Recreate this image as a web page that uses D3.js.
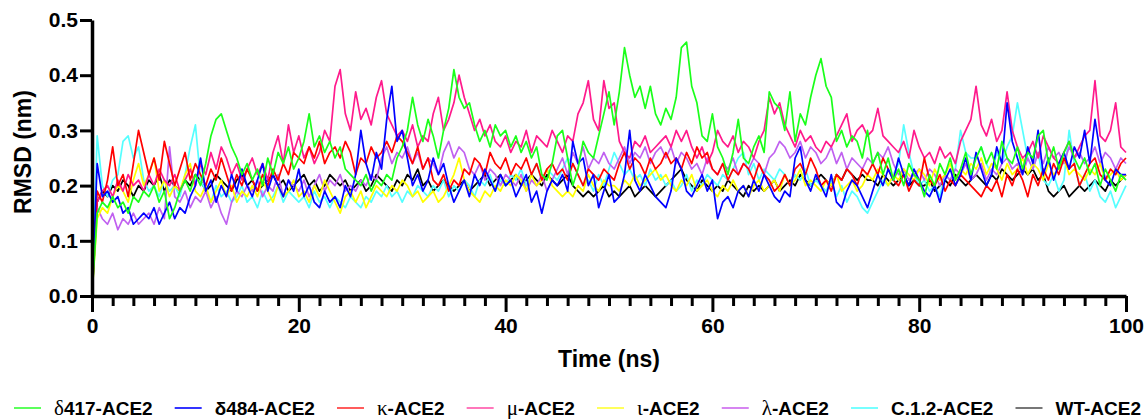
<!DOCTYPE html>
<html><head><meta charset="utf-8">
<script src="https://cdn.jsdelivr.net/npm/d3@7"></script>
<style>body{margin:0;background:#fff;}svg{display:block;}</style>
</head><body><svg id="chart" width="1148" height="419"></svg>
<script>
// sampling interval of the trajectories (ns)
const step = 0.5;

const d417 = [0,
.15,.17,.16,.18,.16,.17,.15,.18,.17,.19,
.18,.20,.17,.19,.14,.16,.19,.21,.19,.22,
.20,.24,.29,.32,.33,.30,.27,.25,.22,.24,
.21,.23,.20,.25,.22,.26,.24,.27,.23,.25,
.28,.33,.27,.29,.26,.28,.25,.27,.23,.22,
.21,.20,.22,.19,.21,.20,.22,.21,.25,.27,
.30,.36,.31,.28,.32,.29,.25,.30,.34,.41,
.36,.34,.35,.31,.28,.30,.27,.31,.29,.30,
.27,.29,.26,.28,.25,.27,.22,.21,.24,.29,
.30,.25,.20,.23,.28,.26,.25,.29,.33,.37,
.31,.37,.45,.40,.36,.38,.34,.38,.33,.31,
.34,.32,.36,.45,.46,.38,.35,.29,.28,.33,
.27,.25,.22,.26,.32,.25,.24,.27,.29,.26,
.37,.35,.34,.30,.37,.28,.33,.31,.36,.40,
.43,.38,.36,.28,.30,.27,.29,.28,.25,.30,
.24,.26,.22,.25,.21,.23,.20,.24,.22,.21,
.18,.22,.20,.24,.22,.25,.21,.23,.26,.22,
.25,.27,.24,.26,.23,.28,.25,.24,.27,.23,
.26,.25,.29,.30,.24,.27,.23,.26,.28,.25,
.23,.25,.22,.24,.20,.23,.21,.19,.22,.21];

const d484 = [0,
.24,.18,.19,.17,.18,.15,.16,.13,.14,.15,
.14,.16,.13,.15,.17,.14,.16,.15,.18,.20,
.25,.19,.21,.17,.20,.18,.22,.19,.23,.20,
.18,.21,.24,.19,.22,.20,.18,.21,.19,.23,
.18,.20,.17,.16,.19,.17,.18,.16,.20,.18,
.22,.30,.24,.21,.26,.23,.32,.38,.28,.30,
.25,.20,.22,.19,.21,.25,.22,.24,.20,.17,
.19,.21,.18,.22,.20,.23,.21,.19,.22,.20,
.21,.18,.20,.22,.17,.19,.15,.19,.21,.20,
.22,.19,.28,.24,.25,.20,.22,.16,.19,.22,
.17,.18,.22,.30,.21,.19,.22,.20,.18,.17,
.16,.19,.25,.23,.19,.18,.20,.22,.19,.21,
.14,.17,.18,.16,.19,.20,.18,.21,.19,.22,
.20,.18,.17,.19,.18,.25,.27,.21,.19,.22,
.20,.18,.22,.17,.16,.19,.21,.20,.18,.16,
.19,.22,.20,.23,.21,.25,.22,.20,.23,.21,
.19,.18,.20,.17,.21,.23,.20,.22,.25,.21,
.26,.23,.20,.22,.27,.24,.35,.28,.25,.22,
.27,.24,.30,.22,.25,.21,.24,.26,.23,.27,
.25,.30,.24,.32,.26,.21,.20,.23,.22,.22];

const kappa = [0,
.19,.17,.21,.27,.20,.22,.18,.24,.30,.26,
.22,.25,.21,.28,.24,.20,.23,.26,.21,.24,
.22,.20,.23,.21,.25,.22,.19,.22,.20,.23,
.21,.19,.22,.20,.23,.21,.24,.22,.26,.25,
.24,.27,.25,.28,.24,.26,.27,.25,.28,.26,
.22,.25,.24,.27,.25,.26,.28,.26,.29,.28,
.26,.24,.27,.23,.25,.21,.20,.22,.19,.21,
.20,.23,.22,.25,.24,.22,.26,.24,.23,.25,
.22,.24,.23,.25,.22,.24,.21,.23,.24,.22,
.23,.21,.24,.22,.20,.23,.22,.21,.23,.22,
.21,.24,.26,.23,.25,.24,.22,.25,.23,.24,
.26,.24,.25,.23,.26,.24,.27,.25,.26,.23,
.22,.24,.21,.23,.22,.24,.23,.21,.24,.22,
.21,.19,.20,.22,.20,.23,.24,.22,.25,.23,
.20,.21,.19,.22,.21,.23,.22,.20,.23,.22,
.24,.22,.25,.23,.21,.20,.22,.19,.21,.20,
.25,.21,.20,.22,.19,.21,.20,.22,.21,.20,
.19,.18,.20,.19,.21,.18,.22,.20,.23,.21,
.18,.22,.20,.23,.21,.24,.22,.25,.23,.24,
.20,.22,.24,.25,.22,.21,.23,.22,.24,.25];

const mu = [0,
.17,.19,.20,.18,.21,.19,.22,.20,.21,.19,
.22,.20,.23,.21,.20,.22,.19,.21,.23,.20,
.24,.22,.26,.23,.27,.25,.22,.24,.21,.23,
.25,.22,.24,.21,.26,.29,.24,.31,.26,.29,
.25,.27,.24,.26,.30,.28,.38,.41,.33,.30,
.37,.32,.34,.31,.36,.39,.33,.31,.29,.30,
.28,.31,.27,.29,.28,.33,.36,.30,.32,.35,
.40,.36,.33,.30,.32,.29,.31,.28,.27,.29,
.26,.28,.27,.30,.26,.29,.28,.27,.30,.28,
.26,.29,.28,.33,.35,.39,.32,.30,.39,.34,
.35,.28,.26,.25,.28,.27,.29,.26,.27,.28,
.29,.27,.30,.28,.30,.27,.25,.27,.24,.26,
.30,.28,.27,.29,.26,.28,.27,.25,.28,.30,
.36,.33,.35,.31,.29,.27,.30,.28,.29,.27,
.26,.28,.27,.29,.31,.33,.28,.30,.31,.29,
.30,.34,.29,.28,.27,.26,.28,.25,.30,.27,
.25,.26,.24,.27,.25,.26,.24,.28,.30,.32,
.38,.31,.29,.32,.28,.30,.37,.30,.27,.25,
.26,.28,.25,.29,.27,.25,.24,.26,.28,.25,
.27,.29,.30,.39,.29,.28,.30,.35,.27,.26];

const iota = [0,
.14,.16,.15,.18,.20,.19,.17,.21,.24,.20,
.22,.25,.19,.21,.18,.20,.19,.22,.24,.19,
.18,.20,.17,.19,.21,.18,.20,.17,.19,.18,
.20,.18,.21,.19,.17,.20,.18,.19,.21,.18,
.19,.17,.20,.18,.21,.19,.17,.15,.18,.19,
.17,.19,.16,.18,.20,.19,.18,.20,.19,.21,
.20,.18,.19,.17,.18,.19,.17,.18,.20,.22,
.25,.21,.19,.18,.17,.19,.18,.20,.19,.21,
.20,.22,.21,.19,.22,.20,.21,.23,.20,.19,
.18,.19,.18,.20,.19,.22,.20,.19,.21,.20,
.20,.19,.21,.20,.22,.20,.21,.22,.23,.21,
.22,.20,.19,.21,.20,.22,.19,.20,.21,.19,
.18,.20,.19,.21,.19,.20,.18,.20,.21,.19,
.20,.21,.19,.22,.20,.21,.23,.20,.21,.20,
.19,.21,.20,.22,.19,.20,.21,.19,.20,.22,
.21,.23,.22,.20,.22,.21,.23,.22,.21,.23,
.22,.20,.23,.21,.22,.24,.21,.23,.22,.24,
.23,.25,.22,.24,.23,.21,.24,.22,.23,.25,
.22,.24,.23,.21,.24,.22,.23,.25,.22,.23,
.22,.21,.23,.22,.24,.21,.22,.23,.21,.22];

const lambda = [0,
.16,.14,.13,.15,.12,.14,.13,.15,.13,.14,
.15,.13,.16,.14,.27,.18,.17,.19,.16,.18,
.17,.19,.16,.18,.15,.13,.17,.19,.18,.20,
.19,.21,.18,.20,.19,.22,.18,.21,.20,.19,
.21,.18,.20,.22,.19,.21,.20,.22,.19,.20,
.19,.21,.20,.22,.21,.25,.27,.24,.26,.25,
.27,.24,.26,.23,.25,.24,.22,.26,.28,.25,
.27,.26,.23,.22,.24,.21,.23,.22,.20,.22,
.21,.20,.22,.19,.21,.20,.22,.19,.21,.23,
.25,.22,.26,.24,.27,.23,.25,.24,.26,.24,
.23,.25,.27,.24,.26,.25,.27,.24,.26,.27,
.25,.27,.24,.26,.25,.23,.24,.22,.25,.23,
.22,.24,.23,.25,.22,.24,.23,.25,.24,.22,
.25,.26,.28,.27,.25,.26,.28,.25,.27,.26,
.24,.25,.27,.24,.26,.23,.25,.24,.23,.25,
.24,.26,.25,.27,.24,.22,.23,.21,.22,.23,
.21,.23,.22,.20,.22,.21,.23,.22,.24,.21,
.22,.24,.21,.23,.22,.24,.25,.23,.24,.22,
.25,.23,.26,.24,.27,.25,.26,.24,.27,.25,
.26,.24,.25,.27,.24,.26,.25,.23,.25,.24];

const c12 = [0,
.29,.20,.18,.21,.22,.28,.29,.25,.27,.21,
.19,.20,.18,.21,.19,.20,.18,.22,.27,.31,
.21,.19,.17,.20,.18,.19,.17,.18,.20,.17,
.18,.16,.19,.17,.18,.20,.17,.19,.18,.17,
.18,.16,.19,.17,.18,.16,.18,.17,.16,.18,
.17,.16,.18,.17,.19,.18,.20,.18,.19,.17,
.19,.18,.20,.19,.18,.20,.19,.21,.18,.20,
.19,.21,.20,.18,.21,.20,.22,.19,.21,.20,
.22,.21,.23,.20,.22,.24,.21,.23,.22,.21,
.23,.25,.24,.22,.20,.21,.19,.22,.20,.23,
.26,.24,.22,.23,.21,.22,.20,.23,.21,.22,
.20,.21,.19,.20,.22,.19,.21,.20,.22,.21,
.20,.22,.21,.23,.25,.26,.22,.24,.21,.23,
.22,.21,.23,.22,.20,.22,.21,.23,.20,.21,
.20,.19,.21,.18,.20,.17,.19,.18,.16,.15,
.17,.19,.21,.20,.22,.24,.31,.26,.22,.20,
.21,.19,.20,.18,.22,.21,.23,.30,.26,.25,
.25,.27,.24,.22,.26,.24,.27,.29,.35,.30,
.25,.23,.26,.21,.20,.22,.19,.21,.30,.24,
.20,.22,.19,.21,.18,.17,.19,.16,.18,.20];

const wt = [0,
.17,.19,.18,.20,.19,.21,.20,.18,.20,.19,
.21,.20,.22,.19,.21,.20,.19,.21,.20,.22,
.21,.19,.20,.22,.21,.20,.19,.21,.22,.20,
.21,.19,.20,.21,.22,.20,.21,.19,.20,.21,
.22,.20,.21,.19,.20,.22,.21,.20,.21,.19,
.20,.21,.19,.20,.22,.21,.20,.19,.21,.20,
.22,.21,.23,.20,.21,.19,.20,.21,.20,.19,
.20,.21,.19,.20,.21,.22,.20,.21,.22,.20,
.21,.22,.20,.21,.22,.21,.20,.22,.21,.20,
.21,.22,.20,.19,.18,.19,.18,.19,.20,.18,
.19,.18,.19,.20,.18,.19,.20,.19,.18,.19,
.20,.21,.22,.23,.21,.20,.19,.21,.20,.19,
.20,.19,.21,.20,.19,.18,.20,.19,.20,.19,
.20,.21,.19,.20,.21,.20,.22,.21,.20,.21,
.22,.21,.20,.22,.21,.23,.22,.21,.22,.21,
.21,.20,.22,.21,.20,.21,.22,.20,.21,.20,
.20,.21,.19,.20,.21,.20,.22,.21,.20,.21,
.22,.21,.20,.22,.21,.23,.22,.21,.22,.23,
.22,.23,.21,.22,.19,.18,.19,.20,.18,.19,
.20,.19,.20,.21,.20,.19,.21,.20,.21,.22];

const seriesData   = [d417, d484, kappa, mu, iota, lambda, c12, wt];
const legendGreek  = ["δ", "", "κ", "μ", "ι", "λ", "", ""];
const legendRest   = ["417-ACE2", "δ484-ACE2", "-ACE2", "-ACE2", "-ACE2", "-ACE2", "C.1.2-ACE2", "WT-ACE2"];
const seriesColors = ["#1aff1a", "#0000ff", "#ff0000", "#ff1a8c", "#ffff00", "#c060f0", "#55ffff", "#000000"];
const legendColors = ["#33ff33", "#0000ff", "#ff3333", "#ff55aa", "#ffff33", "#cc66ee", "#55ffff", "#555555"];

const xMajorTicks = [0, 20, 40, 60, 80, 100];
const yTicks = [0, 0.1, 0.2, 0.3, 0.4, 0.5];

const svg = d3.select("#chart");
const FONT = "'Liberation Sans', Arial, Helvetica, sans-serif";
const x = d3.scaleLinear().domain([0, 100]).range([92, 1126]);
const y = d3.scaleLinear().domain([0, 0.5]).range([296, 20]);

// lines (WT at bottom, δ417 on top)
const line = d3.line().x((d, i) => x(i * step)).y(d => y(d));
const order = d3.range(seriesData.length).reverse();
svg.append("g").selectAll("path").data(order).join("path")
  .attr("d", k => line(seriesData[k]))
  .attr("fill", "none")
  .attr("stroke", k => seriesColors[k])
  .attr("stroke-width", 1.7)
  .attr("stroke-linejoin", "round");

// minor x ticks
const minorTicks = d3.range(0, 101, 2).filter(v => v % 20 !== 0);
const gxMinor = svg.append("g").attr("transform", `translate(0,296)`)
  .call(d3.axisBottom(x).tickValues(minorTicks).tickSize(10).tickFormat(""));
gxMinor.select(".domain").remove();
gxMinor.selectAll("line").attr("stroke", "#000").attr("stroke-width", 3);

// major x axis
const gx = svg.append("g").attr("transform", `translate(0,296)`)
  .call(d3.axisBottom(x).tickValues(xMajorTicks).tickSize(16).tickSizeOuter(0).tickPadding(6).tickFormat(d3.format("d")));
gx.select(".domain").attr("stroke", "#000").attr("stroke-width", 3.5);
gx.selectAll(".tick line").attr("stroke", "#000").attr("stroke-width", 3);
gx.selectAll(".tick text").attr("font-family", FONT).attr("font-weight", "bold").attr("font-size", 21).attr("fill", "#000");

// y axis
const gy = svg.append("g").attr("transform", `translate(92,0)`)
  .call(d3.axisLeft(y).tickValues(yTicks).tickSize(12).tickSizeOuter(0).tickPadding(2).tickFormat(d3.format(".1f")));
gy.select(".domain").attr("stroke", "#000").attr("stroke-width", 3.5);
gy.selectAll(".tick line").attr("stroke", "#000").attr("stroke-width", 3);
gy.selectAll(".tick text").attr("font-family", FONT).attr("font-weight", "bold").attr("font-size", 21).attr("fill", "#000");

// axis titles
svg.append("text").attr("x", 609).attr("y", 367).attr("text-anchor", "middle")
  .attr("font-family", FONT).attr("font-weight", "bold").attr("font-size", 23).text("Time (ns)");
svg.append("text").attr("transform", "translate(31,152) rotate(-90)").attr("text-anchor", "middle")
  .attr("font-family", FONT).attr("font-weight", "bold").attr("font-size", 23).text("RMSD (nm)");

// legend: items spread from left edge to right edge
const ly = 408, lineLen = 27, lineGap = 13, legStart = 14, legEnd = 1141;
const items = seriesData.map((s, k) => {
  const g = svg.append("g");
  const ln = g.append("line").attr("y1", ly).attr("y2", ly)
    .attr("stroke", legendColors[k]).attr("stroke-width", 1.6);
  const t = g.append("text").attr("y", ly + 7)
    .attr("font-family", FONT).attr("font-weight", "bold").attr("font-size", 19).attr("fill", "#000");
  if (legendGreek[k]) {
    t.append("tspan").attr("font-family", "'Liberation Serif', 'DejaVu Serif', serif")
      .attr("font-weight", "normal").attr("font-size", 21).text(legendGreek[k]);
  }
  t.append("tspan").text(legendRest[k]);
  return {ln, t, w: t.node().getComputedTextLength()};
});
const totalW = d3.sum(items, d => d.w) + items.length * (lineLen + lineGap);
const between = (legEnd - legStart - totalW) / (items.length - 1);
let lx = legStart;
items.forEach(it => {
  it.ln.attr("x1", lx).attr("x2", lx + lineLen);
  it.t.attr("x", lx + lineLen + lineGap);
  lx += lineLen + lineGap + it.w + between;
});
</script>
</body></html>
